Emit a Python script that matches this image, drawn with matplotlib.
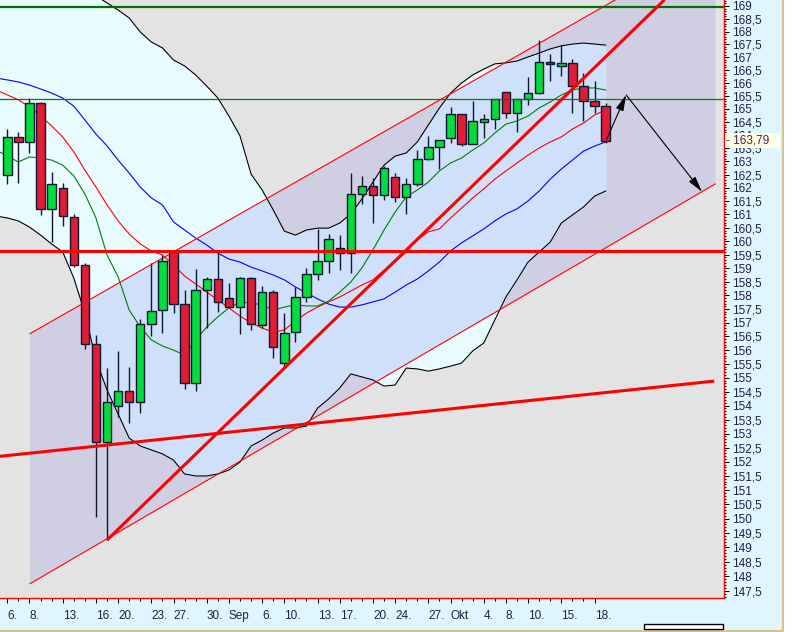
import numpy as np
import matplotlib
matplotlib.use("Agg")
import matplotlib.pyplot as plt
import matplotlib.transforms as mtransforms
from matplotlib.patches import Polygon, Rectangle
from matplotlib.lines import Line2D
from matplotlib.ticker import FixedLocator, FuncFormatter, NullFormatter

plt.rcParams['font.family'] = ['Liberation Sans', 'DejaVu Sans']

###################################
# Data (daily candles, 6 Aug - 19 Oct)

day_ticks = [0, 2, 5, 8, 10, 13, 15, 18, 20, 23, 25, 28, 30, 33, 35, 38, 40, 43, 45, 47, 50, 53]
day_labels = ['6.', '8.', '13.', '16.', '20.', '23.', '27.', '30.', 'Sep', '6.', '10.', '13.',
              '17.', '20.', '24.', '27.', 'Okt', '4.', '8.', '10.', '15.', '18.']

opens = [162.49, 163.93, 163.74, 165.23, 161.21, 162.00, 160.91, 159.12, 156.22, 152.70,
         153.99, 154.52, 154.13, 156.95, 157.46, 159.60, 157.68, 154.81, 158.20, 158.60,
         157.90, 157.57, 158.64, 156.92, 158.12, 155.53, 156.66, 157.94, 158.79, 159.27,
         159.75, 159.56, 161.77, 162.07, 161.73, 162.41, 161.66, 162.15, 163.09, 163.55,
         163.89, 164.81, 163.66, 164.50, 164.62, 165.65, 164.85, 165.38, 165.62, 166.81,
         166.65, 166.77, 165.89, 165.31, 165.12]
highs = [164.24, 164.12, 165.42, 165.27, 162.60, 162.19, 161.02, 159.19, 156.55, 155.35,
         155.97, 155.39, 157.14, 159.19, 159.49, 159.68, 158.20, 158.97, 158.68, 159.60,
         158.46, 158.68, 158.68, 158.35, 158.20, 157.35, 158.31, 159.01, 160.46, 160.27,
         160.24, 162.56, 162.45, 162.37, 162.83, 162.56, 162.37, 163.43, 163.97, 163.82,
         165.08, 164.81, 165.31, 164.81, 165.38, 165.65, 165.38, 166.23, 167.67, 167.12,
         167.47, 166.93, 166.39, 166.08, 165.23]
lows = [162.15, 162.19, 163.32, 160.98, 159.97, 160.57, 159.05, 156.04, 150.06, 149.26,
        153.59, 153.38, 153.74, 156.51, 156.62, 157.35, 154.60, 154.52, 156.81, 157.39,
        157.57, 156.59, 156.73, 156.81, 155.71, 155.39, 156.30, 157.76, 158.57, 158.83,
        158.94, 158.83, 161.39, 160.68, 161.54, 161.47, 161.02, 162.07, 163.06, 162.72,
        163.70, 163.59, 163.66, 163.89, 164.24, 164.66, 164.12, 165.15, 165.58, 166.08,
        166.27, 164.85, 164.54, 164.85, 163.70]
closes = [163.93, 163.74, 165.23, 161.21, 162.15, 160.95, 159.12, 156.22, 152.70, 154.13,
          154.52, 154.13, 156.95, 157.43, 159.27, 157.68, 154.81, 158.20, 158.60, 157.76,
          157.57, 158.64, 156.95, 158.12, 156.11, 156.62, 157.94, 158.79, 159.27, 160.09,
          159.56, 161.77, 162.07, 161.73, 162.75, 161.66, 162.15, 163.09, 163.55, 163.82,
          164.81, 163.66, 164.54, 164.62, 165.38, 164.85, 165.38, 165.62, 166.81, 166.73,
          166.77, 165.89, 165.31, 165.12, 163.79]

# indicator lines start one day before the first full candle
bb_upper = [170.2, 170.2, 170.2, 170.1, 170.0, 169.9, 169.8, 169.7, 169.55, 169.4,
            169.12, 168.84, 168.53, 167.98, 167.59, 167.36, 166.89, 166.66, 166.31, 165.88,
            165.42, 164.73, 163.97, 162.52, 161.92, 161.17, 160.38, 160.23, 160.42, 160.49,
            160.49, 160.68, 161.02, 161.58, 162.22, 162.86, 163.20, 163.32, 163.74, 164.39,
            165.04, 165.61, 166.00, 166.31, 166.54, 166.74, 166.78, 166.85, 167.01, 167.16,
            167.32, 167.44, 167.51, 167.55, 167.51, 167.47]
bb_lower = [160.94, 160.87, 160.76, 160.53, 160.23, 159.90, 159.60, 158.64, 157.35, 155.64,
            154.56, 153.70, 152.84, 152.56, 152.42, 152.28, 152.06, 151.57, 151.50, 151.50,
            151.57, 151.71, 151.99, 152.56, 152.77, 153.02, 153.20, 153.20, 153.27, 153.91,
            154.24, 154.63, 155.14, 155.03, 154.92, 154.70, 154.74, 155.35, 155.32, 155.24,
            155.32, 155.42, 155.53, 155.97, 156.26, 157.10, 157.94, 158.57, 159.23, 159.60,
            159.97, 160.68, 160.98, 161.28, 161.69, 161.88]
ma_blue = [166.19, 166.12, 166.04, 165.92, 165.77, 165.61, 165.42, 165.11, 164.58, 164.04,
           163.59, 163.05, 162.56, 162.03, 161.62, 161.36, 160.72, 160.42, 160.12, 159.86,
           159.56, 159.34, 159.23, 159.04, 158.90, 158.75, 158.57, 158.31, 158.09, 157.87,
           157.68, 157.57, 157.57, 157.65, 157.76, 157.87, 158.12, 158.38, 158.60, 158.90,
           159.23, 159.64, 159.94, 160.20, 160.46, 160.76, 161.02, 161.21, 161.51, 161.88,
           162.33, 162.71, 163.05, 163.39, 163.58, 163.74]
ma_red = [165.73, 165.54, 165.35, 165.08, 164.73, 164.35, 163.93, 163.36, 162.67, 162.03,
          161.36, 160.76, 160.27, 159.90, 159.64, 159.49, 159.12, 158.71, 158.42, 158.12,
          157.83, 157.54, 157.24, 156.99, 156.80, 156.66, 156.73, 157.06, 157.35, 157.57,
          157.76, 157.94, 158.16, 158.38, 158.57, 158.93, 159.23, 159.60, 160.05, 160.35,
          160.46, 160.87, 161.24, 161.62, 161.96, 162.33, 162.64, 162.94, 163.24, 163.51,
          163.74, 163.93, 164.23, 164.46, 164.77, 164.96]
ma_green = [163.43, 163.20, 162.98, 163.17, 163.13, 163.05, 162.86, 162.45, 161.77, 160.87,
            159.49, 158.68, 157.46, 156.84, 156.37, 156.15, 156.00, 155.82, 156.37, 156.84,
            157.21, 157.54, 157.76, 157.72, 157.65, 157.46, 157.57, 157.65, 157.61, 157.61,
            157.79, 158.12, 158.49, 159.01, 159.68, 160.42, 161.09, 161.66, 161.92, 162.22,
            162.64, 162.94, 163.13, 163.43, 163.70, 164.08, 164.42, 164.54, 164.73, 165.04,
            165.27, 165.54, 165.73, 165.81, 165.81, 165.73]

# drawn lines: trend channel, trend line, support, levels, projection arrows
channel_x = [2.05, 63.9]
channel_upper = [156.6, 171.5]
channel_lower = [147.75, 162.15]
trend_x = [9.0, 59.3]
trend_y = [149.26, 169.24]
support_x = [-1.0, 63.8]
support_y = [152.18, 154.88]
level_red = 159.65
level_green = 165.37
level_green_top = 168.97
arrow_x = [54.1, 55.85, 62.7]
arrow_y = [163.85, 165.54, 161.85]
last_price = 163.79

###################################
# Figure

W, H = 792, 632
fig = plt.figure(figsize=(W / 100, H / 100), dpi=100)
fig.patch.set_facecolor('white')

# cyan panel with tan frame on right/bottom
fig.patches.append(Rectangle((0, 2 / H), 783 / W, 630 / H, transform=fig.transFigure,
                             fc='#DFF6FE', ec='none', zorder=-10))
fig.lines.append(Line2D([0, 783 / W], [1.5 / H, 1.5 / H], transform=fig.transFigure,
                        color='#D6C68E', lw=1.5))
fig.lines.append(Line2D([782.5 / W, 782.5 / W], [1.5 / H, 1], transform=fig.transFigure,
                        color='#D6C68E', lw=1.5))
# little scroll bar
fig.patches.append(Rectangle((644 / W, 3 / H), 79 / W, 5 / H, transform=fig.transFigure,
                             fc='white', ec='black', lw=1.0, zorder=5))

ax = fig.add_axes([0, 34 / H, 724 / W, 598 / H])
ax.set_facecolor('#E3E3E3')
ax.set_yscale('log')
ax.set_xlim(-0.66, 64.68)
ax.set_ylim(147.26, 169.236)

line_x = np.arange(-1, len(bb_upper) - 1)
idx = np.arange(len(opens))

# regression channel shading
chan = Polygon([(channel_x[0], channel_upper[0]), (channel_x[1], channel_upper[1]),
                (channel_x[1], channel_lower[1]), (channel_x[0], channel_lower[0])],
               closed=True, fc='#CFCEE3', ec='none', zorder=1)
ax.add_patch(chan)

# bollinger band fill, bluish where it sits inside the channel
ax.fill_between(line_x, bb_lower, bb_upper, color='#E8FBFE', lw=0, zorder=2)
inner = ax.fill_between(line_x, bb_lower, bb_upper, color='#CFE0FA', lw=0, zorder=3)
inner.set_clip_path(chan)

ax.plot(line_x, bb_upper, color='black', lw=0.8, zorder=4)
ax.plot(line_x, bb_lower, color='black', lw=0.8, zorder=4)
ax.plot(line_x, ma_blue, color='#0000FF', lw=0.8, zorder=4)
ax.plot(line_x, ma_red, color='#FF0000', lw=0.8, zorder=4)
ax.plot(line_x, ma_green, color='#008000', lw=0.8, zorder=4)

# channel borders
ax.plot(channel_x, channel_upper, color='#FF0000', lw=0.8, zorder=5)
ax.plot(channel_x, channel_lower, color='#FF0000', lw=0.8, zorder=5)

# candles
edge = '#101830'
ax.vlines(idx, lows, highs, color=edge, lw=1.0, zorder=6)
body_lo = np.minimum(opens, closes)
body_h = np.abs(np.array(closes) - np.array(opens))
colors = ['#00DD3C' if c >= o else '#E01C36' for o, c in zip(opens, closes)]
ax.bar(idx, body_h, bottom=body_lo, width=0.76, color=colors, edgecolor=edge,
       linewidth=1.0, zorder=7)

# levels and trend lines
ax.axhline(level_green_top, color='#007000', lw=1.6, zorder=8)
ax.axhline(level_green, color='#0A780A', lw=0.9, zorder=8)
ax.axhline(level_red, color='#FF0000', lw=2.2, zorder=8)
ax.plot(trend_x, trend_y, color='#FF0000', lw=2.2, zorder=8, solid_capstyle='butt')
ax.plot(support_x, support_y, color='#FF0000', lw=2.2, zorder=8, solid_capstyle='butt')

# projection arrows
for i in range(2):
    ax.annotate('', xy=(arrow_x[i + 1], arrow_y[i + 1]), xytext=(arrow_x[i], arrow_y[i]),
                arrowprops=dict(arrowstyle='-|>,head_length=0.8,head_width=0.2',
                                color='black', lw=0.8, shrinkA=0, shrinkB=0,
                                mutation_scale=12), zorder=9)

# axes frame
for side in ['top', 'left']:
    ax.spines[side].set_visible(False)
for side in ['right', 'bottom']:
    ax.spines[side].set_color('#FF0000')
    ax.spines[side].set_linewidth(1.0)

# price axis on the right
ax.yaxis.tick_right()
ax.yaxis.set_major_locator(FixedLocator(np.arange(147.5, 169.01, 0.5)))
ax.yaxis.set_minor_locator(FixedLocator(np.arange(147.3, 169.21, 0.1)))
ax.yaxis.set_major_formatter(FuncFormatter(lambda v, p: ('%g' % round(v, 1)).replace('.', ',')))
ax.yaxis.set_minor_formatter(NullFormatter())
ax.tick_params(axis='y', which='major', length=3.5, width=0.7, color='black', pad=2.5,
               labelsize=8.5, labelcolor='#202048')
ax.tick_params(axis='y', which='minor', length=1.5, width=0.7, color='black')

# date axis
ax.set_xticks(day_ticks)
ax.set_xticklabels(day_labels)
ax.set_xticks(np.arange(0, 54), minor=True)
ax.tick_params(axis='x', which='major', length=3.5, width=0.7, color='black', pad=5,
               labelsize=8.5, labelcolor='#202048')
ax.tick_params(axis='x', which='minor', length=2.5, width=0.7, color='black')
for lbl in ax.get_xticklabels():
    lbl.set_ha('left')

# last price tag, sits over the 164 label like in the original
tr = mtransforms.blended_transform_factory(ax.transAxes, ax.transData)
ax.text(1.0 + 2 / 724, last_price, '- ' + ('%.2f' % last_price).replace('.', ',') + '   ',
        transform=tr, va='center', ha='left', fontsize=8.5, color='#501a5a', clip_on=False,
        zorder=20, bbox=dict(boxstyle='square,pad=0.1', fc='#FFFFE6', ec='none'))

fig.savefig('out.png', dpi=100, facecolor=fig.get_facecolor())
